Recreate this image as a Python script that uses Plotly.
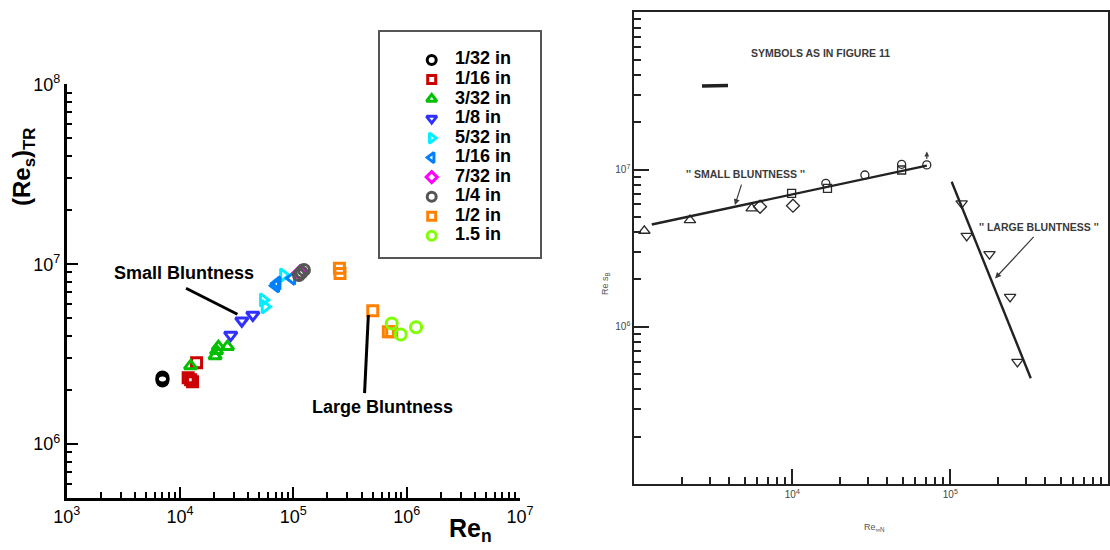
import numpy as np
import plotly.graph_objects as go

W, H = 1110, 550
FONT = "Liberation Sans, Arial, sans-serif"

# ---------------- left chart: data ----------------
series_names = ["1/32 in", "1/16 in", "3/32 in", "1/8 in", "5/32 in",
                "1/16 in", "7/32 in", "1/4 in", "1/2 in", "1.5 in"]
series_symbols = ["circle-open", "square-open", "triangle-up-open", "triangle-down-open",
                  "triangle-right-open", "triangle-left-open", "diamond-open",
                  "circle-open", "square-open", "circle-open"]
series_colors = ["#000000", "#cc0000", "#00c000", "#3030ff", "#00f0ff",
                 "#0080ff", "#ff00ff", "#555555", "#ff8000", "#80ff00"]
series_sizes = [11, 10, 11, 11, 11, 11, 10.5, 11, 10, 11]

re_n_1_32 = [7000, 7000, 7000]
res_1_32 = [2.35e6, 2.30e6, 2.26e6]
re_n_1_16 = [11800, 12400, 12900, 14000]
res_1_16 = [2.34e6, 2.28e6, 2.22e6, 2.83e6]
re_n_3_32 = [12400, 20400, 21000, 21800, 26200]
res_3_32 = [2.72e6, 3.09e6, 3.30e6, 3.48e6, 3.48e6]
re_n_1_8 = [28000, 35100, 43900]
res_1_8 = [4.04e6, 4.85e6, 5.22e6]
re_n_5_32 = [54300, 56200, 81700]
res_5_32 = [6.33e6, 5.80e6, 8.70e6]
re_n_1_16b = [70000, 72000, 97000]
res_1_16b = [7.60e6, 7.85e6, 8.36e6]
re_n_7_32 = [114500]
res_7_32 = [8.98e6]
re_n_1_4 = [112000, 118000, 124000]
res_1_4 = [8.7e6, 9.0e6, 9.3e6]
re_n_1_2 = [255000, 258000, 502000, 689000, 738000]
res_1_2 = [9.49e6, 8.89e6, 5.52e6, 4.22e6, 4.22e6]
re_n_1_5 = [738000, 887000, 1.21e6]
res_1_5 = [4.69e6, 4.07e6, 4.46e6]

left_x = [re_n_1_32, re_n_1_16, re_n_3_32, re_n_1_8, re_n_5_32,
          re_n_1_16b, re_n_7_32, re_n_1_4, re_n_1_2, re_n_1_5]
left_y = [res_1_32, res_1_16, res_3_32, res_1_8, res_5_32,
          res_1_16b, res_7_32, res_1_4, res_1_2, res_1_5]

# annotation leader lines (left chart)
small_lead_x = [11300, 32100]
small_lead_y = [7.35e6, 5.27e6]
large_lead_x = [459000, 425000]
large_lead_y = [5.22e6, 1.92e6]

left_xticks = [1e3, 1e4, 1e5, 1e6, 1e7]
left_xticklabels = ["10<sup>3</sup>", "10<sup>4</sup>", "10<sup>5</sup>", "10<sup>6</sup>", "10<sup>7</sup>"]
left_yticks = [1e6, 1e7, 1e8]
left_yticklabels = ["10<sup>6</sup>", "10<sup>7</sup>", "10<sup>8</sup>"]

# ---------------- right chart (scanned figure): data ----------------
r_tri_up_x = [1157, 2250, 5530]
r_tri_up_y = [4.08e6, 4.77e6, 5.67e6]
r_diamond_x = [6250, 10100]
r_diamond_y = [5.80e6, 5.89e6]
r_square_x = [9900, 16700, 49200]
r_square_y = [7.06e6, 7.59e6, 9.93e6]
r_circle_x = [16300, 28800, 49200, 71000]
r_circle_y = [8.17e6, 9.23e6, 1.08e7, 1.07e7]
r_tri_down_x = [118000, 127000, 177000, 239000, 266000]
r_tri_down_y = [6.10e6, 3.78e6, 2.90e6, 1.55e6, 5.98e5]

small_fit_x = [1290, 71000]
small_fit_y = [4.47e6, 1.06e7]
large_fit_x = [102000, 323000]
large_fit_y = [8.36e6, 4.71e5]

right_xticks = [1e4, 1e5]
right_xticklabels = ["10<sup>4</sup>", "10<sup>5</sup>"]
right_yticks = [1e6, 1e7]
right_yticklabels = ["10<sup>6</sup>", "10<sup>7</sup>"]


def minor_ticks(e_lo, e_hi, first_mult=2):
    vals = []
    for e in range(e_lo, e_hi):
        for m in range(2, 10):
            if e == e_lo and m < first_mult:
                continue
            vals.append(m * 10.0 ** e)
    return vals


fig = go.Figure()

# left chart scatter series
for name, sym, col, sz, xs, ys in zip(series_names, series_symbols, series_colors,
                                        series_sizes, left_x, left_y):
    fig.add_trace(go.Scatter(
        x=xs, y=ys, mode="markers", name=name, showlegend=False,
        marker=dict(symbol=sym, size=sz, color=col, opacity=1,
                    line=dict(color=col, width=3)),
        xaxis="x", yaxis="y"))

for lx, ly in [(small_lead_x, small_lead_y), (large_lead_x, large_lead_y)]:
    fig.add_trace(go.Scatter(x=lx, y=ly, mode="lines", showlegend=False,
                             line=dict(color="black", width=3), xaxis="x", yaxis="y"))

# manual legend (own axes)
idx = list(range(len(series_names)))
fig.add_trace(go.Scatter(
    x=[0] * len(idx), y=idx, mode="markers", showlegend=False,
    marker=dict(symbol=series_symbols, size=[s - 2 for s in series_sizes], opacity=1,
                color=series_colors, line=dict(color=series_colors, width=3)),
    xaxis="x3", yaxis="y3"))
fig.add_trace(go.Scatter(
    x=[1] * len(idx), y=idx, mode="text", text=["<b>%s</b>" % n for n in series_names],
    textposition="middle right", showlegend=False,
    textfont=dict(family=FONT, size=18, color="black"),
    xaxis="x3", yaxis="y3"))

# right chart
r_marker = dict(color="#2a2a2a", width=1.3)
for xs, ys, sym, sz in [(r_tri_up_x, r_tri_up_y, "triangle-up-open", 10),
                        (r_diamond_x, r_diamond_y, "diamond-open", 10),
                        (r_square_x, r_square_y, "square-open", 8),
                        (r_circle_x, r_circle_y, "circle-open", 8),
                        (r_tri_down_x, r_tri_down_y, "triangle-down-open", 10)]:
    fig.add_trace(go.Scatter(x=xs, y=ys, mode="markers", showlegend=False,
                             marker=dict(symbol=sym, size=sz, color="#2a2a2a", line=r_marker),
                             xaxis="x2", yaxis="y2"))
for fx, fy in [(small_fit_x, small_fit_y), (large_fit_x, large_fit_y)]:
    fig.add_trace(go.Scatter(x=fx, y=fy, mode="lines", showlegend=False,
                             line=dict(color="#222222", width=2.4), xaxis="x2", yaxis="y2"))


def px2paper_x(px):
    return px / W


def px2paper_y(py):
    return 1 - py / H


# pixel layout of the panels
L_X0, L_X1, L_Y0, L_Y1 = 66.7, 520.0, 84.3, 498.3
R_X0, R_X1, R_Y0, R_Y1 = 634.3, 1108.3, 12.3, 484.0
G_X0, G_X1, G_Y0, G_Y1 = 380.0, 540.0, 31.7, 256.7
G_MARK_X, G_TEXT_X, G_FIRST_Y, G_STEP = 431.7, 455.0, 60.0, 19.52

tickfont_l = dict(family=FONT, size=18, color="black")
left_common = dict(type="log", showline=True, linecolor="black", linewidth=2.5,
                   ticks="inside", ticklen=12, tickwidth=2, tickcolor="black",
                   showgrid=False, zeroline=False, mirror=False, tickfont=tickfont_l,
                   tickmode="array")

right_common = dict(type="log", showline=True, linecolor="#222222", linewidth=2,
                    ticks="inside", ticklen=15, tickwidth=1.5, tickcolor="#222222",
                    showgrid=False, zeroline=False, mirror=True,
                    tickfont=dict(family=FONT, size=10, color="#444444"),
                    tickmode="array")

gx_scale = G_TEXT_X - G_MARK_X
g_x_range = [(G_X0 - G_MARK_X) / gx_scale, (G_X1 - G_MARK_X) / gx_scale]
g_y_range = [(G_Y1 - G_FIRST_Y) / G_STEP, (G_Y0 - G_FIRST_Y) / G_STEP]

fig.update_layout(
    width=W, height=H, margin=dict(l=0, r=0, t=0, b=0, autoexpand=False),
    paper_bgcolor="white", plot_bgcolor="white", showlegend=False,
    font=dict(family=FONT),
    xaxis=dict(left_common, domain=[px2paper_x(L_X0), px2paper_x(L_X1)], range=[3, 7],
               tickvals=left_xticks, ticktext=left_xticklabels, anchor="y",
               minor=dict(tickvals=minor_ticks(3, 7), ticks="inside", ticklen=7,
                          tickwidth=1.5, tickcolor="black", showgrid=False)),
    yaxis=dict(left_common, domain=[px2paper_y(L_Y1), px2paper_y(L_Y0)],
               range=[np.log10(5e5), 8], anchor="x",
               tickvals=left_yticks, ticktext=left_yticklabels,
               minor=dict(tickvals=minor_ticks(5, 8, first_mult=6), ticks="inside", ticklen=6,
                          tickwidth=1.5, tickcolor="black", showgrid=False)),
    xaxis2=dict(right_common, domain=[px2paper_x(R_X0), px2paper_x(R_X1)], range=[3, 6],
                tickvals=right_xticks, ticktext=right_xticklabels, anchor="y2",
                minor=dict(tickvals=minor_ticks(3, 6), ticks="inside", ticklen=7,
                           tickwidth=1.5, tickcolor="#222222", showgrid=False)),
    yaxis2=dict(right_common, domain=[px2paper_y(R_Y1), px2paper_y(R_Y0)], range=[5, 8],
                tickvals=right_yticks, ticktext=right_yticklabels, anchor="x2",
                minor=dict(tickvals=minor_ticks(5, 8), ticks="inside", ticklen=7,
                           tickwidth=1.5, tickcolor="#222222", showgrid=False)),
    xaxis3=dict(domain=[px2paper_x(G_X0), px2paper_x(G_X1)], range=g_x_range,
                showline=True, mirror=True, linecolor="#555555", linewidth=1.5,
                showgrid=False, zeroline=False, showticklabels=False, ticks="", anchor="y3"),
    yaxis3=dict(domain=[px2paper_y(G_Y1), px2paper_y(G_Y0)], range=g_y_range,
                showline=True, mirror=True, linecolor="#555555", linewidth=1.5,
                showgrid=False, zeroline=False, showticklabels=False, ticks="", anchor="x3"),
)

C = dict(xanchor="center", yanchor="middle", showarrow=False)
ann = []
# left chart texts
ann.append(dict(C, xref="x", yref="y", x=np.log10(10740), y=np.log10(8.97e6),
                text="<b>Small Bluntness</b>",
                font=dict(family=FONT, size=18, color="black")))
ann.append(dict(C, xref="x", yref="y", x=np.log10(606700), y=np.log10(1.607e6),
                text="<b>Large Bluntness</b>",
                font=dict(family=FONT, size=18, color="black")))
ann.append(dict(C, xref="paper", yref="paper", x=px2paper_x(23.3), y=px2paper_y(166.7),
                text="<b>(Re<sub>s</sub>)<sub>TR</sub></b>", textangle=-90,
                font=dict(family=FONT, size=24, color="black")))
ann.append(dict(C, xref="paper", yref="paper", x=px2paper_x(470), y=px2paper_y(530),
                text="<b>Re<sub>n</sub></b>",
                font=dict(family=FONT, size=25, color="black")))

# right chart texts
gray = "#3a3a3a"
ann.append(dict(C, xref="paper", yref="paper", x=px2paper_x(820), y=px2paper_y(52.6),
                text="<b>SYMBOLS AS IN FIGURE 11</b>",
                font=dict(family=FONT, size=10.5, color=gray)))
ann.append(dict(C, xref="x2", yref="y2", x=np.log10(5020), y=np.log10(9.32e6),
                text="<b>'' SMALL BLUNTNESS ''</b>",
                font=dict(family=FONT, size=10.5, color=gray)))
ann.append(dict(xref="x2", yref="y2", x=np.log10(4335), y=np.log10(5.94e6),
                text="", showarrow=True, arrowhead=2, arrowsize=1, arrowwidth=1.2,
                arrowcolor=gray, ax=7, ay=-22))
ann.append(dict(C, xref="x2", yref="y2", x=np.log10(3.64e5), y=np.log10(4.33e6),
                text="<b>'' LARGE BLUNTNESS ''</b>",
                font=dict(family=FONT, size=10.5, color=gray)))
ann.append(dict(xref="x2", yref="y2", x=np.log10(1.92e5), y=np.log10(2.03e6),
                text="", showarrow=True, arrowhead=2, arrowsize=1, arrowwidth=1.2,
                arrowcolor=gray, ax=40, ay=-43))
ann.append(dict(xref="x2", yref="y2", x=np.log10(71000), y=np.log10(1.30e7),
                text="", showarrow=True, arrowhead=2, arrowsize=0.8, arrowwidth=1.2,
                arrowcolor=gray, ax=0, ay=9))
ann.append(dict(C, xref="paper", yref="paper", x=px2paper_x(605), y=px2paper_y(284),
                text="Re s<sub>B</sub>", textangle=-90,
                font=dict(family=FONT, size=9, color="#555555")))
ann.append(dict(C, xref="paper", yref="paper", x=px2paper_x(874), y=px2paper_y(527),
                text="Re<sub>∞N</sub>",
                font=dict(family=FONT, size=9, color="#555555")))
fig.update_layout(annotations=ann)

# scan smudge near the top of the right panel
fig.add_shape(type="line", xref="paper", yref="paper",
              x0=px2paper_x(702), x1=px2paper_x(728), y0=px2paper_y(86), y1=px2paper_y(85.5),
              line=dict(color="#222222", width=3.5))

fig.write_html("out.html",
               post_script="document.body.style.margin='0';document.body.style.padding='0';")
